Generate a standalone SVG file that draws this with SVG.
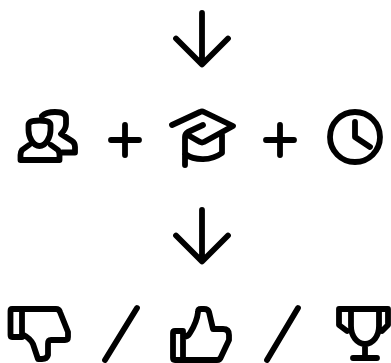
<svg xmlns="http://www.w3.org/2000/svg" width="391" height="363" viewBox="0 0 391 363">
<style>.i{fill:none;stroke:#000;stroke-width:5.800;stroke-linecap:round;stroke-linejoin:round}</style>
<rect width="391" height="363" fill="#fff"/>
<g id="connectors">
<path class="i" d="M202 13V64M176 38.500L202 64.500L228 38.500"/>
<path class="i" d="M202 210V261M176 235.500L202 261.500L228 235.500"/>
</g>
<g id="people"><path class="i" d="M28.500 125C28.500 122 31 120.500 39.500 120.500C48 120.500 50.500 122 50.500 125V130C50.500 137 46 146 39.500 146C33 146 28.500 137 28.500 130ZM29 145L22 150Q20.500 152 20.500 155V160H59.500V155Q59.500 152 58 150L51 145M42 116C45 113 50 112 55 112C62 112 66 114 66 118V124C66 128 64 131 61 134L72 141Q75 143 75 147V152.500H62"/></g>
<g id="plus1"><path class="i" d="M111 140H139M125 125V155"/></g>
<g id="cap"><path class="i" d="M172 125L200 112Q202 111 204 112L233 126L204 142Q202 143 200 142L186 134M203 125L188 132Q185 134 185 137V165M185 154C195 161 211 161 222 153V135"/></g>
<g id="plus2"><path class="i" d="M266 140H294M280 125V155"/></g>
<g id="clock"><circle class="i" cx="355" cy="137" r="25"/><path class="i" d="M355 122V137L370 147"/></g>
<g id="thumbdown"><path class="i" d="M22 309H12Q10.500 309 10.500 311V335Q10.500 337 12 337H22V309H56Q59 309 60 312L68 332V337Q68 340 65 340H51Q48 340 48 344V355Q47 359 42 359H38L33 344Q30 338 22 334"/></g>
<path class="i" d="M137 308L105 360"/>
<g id="thumbup"><path class="i" d="M183 360H175Q173 360 173 358V333Q173 331 175 331H183V360H217Q220 360 221 357L229 340V335Q229 329 223 329H213L209 312Q208 309 204 309H201Q198 309 198 312Q197 322 190 333Q188 337 183 337"/></g>
<path class="i" d="M298 308L267 360"/>
<g id="trophy"><path class="i" d="M339 309H388V325L382 331M339 309V325L347 331M351 309V326C351 336 357 344 365 344C373 344 379 336 379 326V309M365 344V358M353 358H377"/></g>
</svg>
